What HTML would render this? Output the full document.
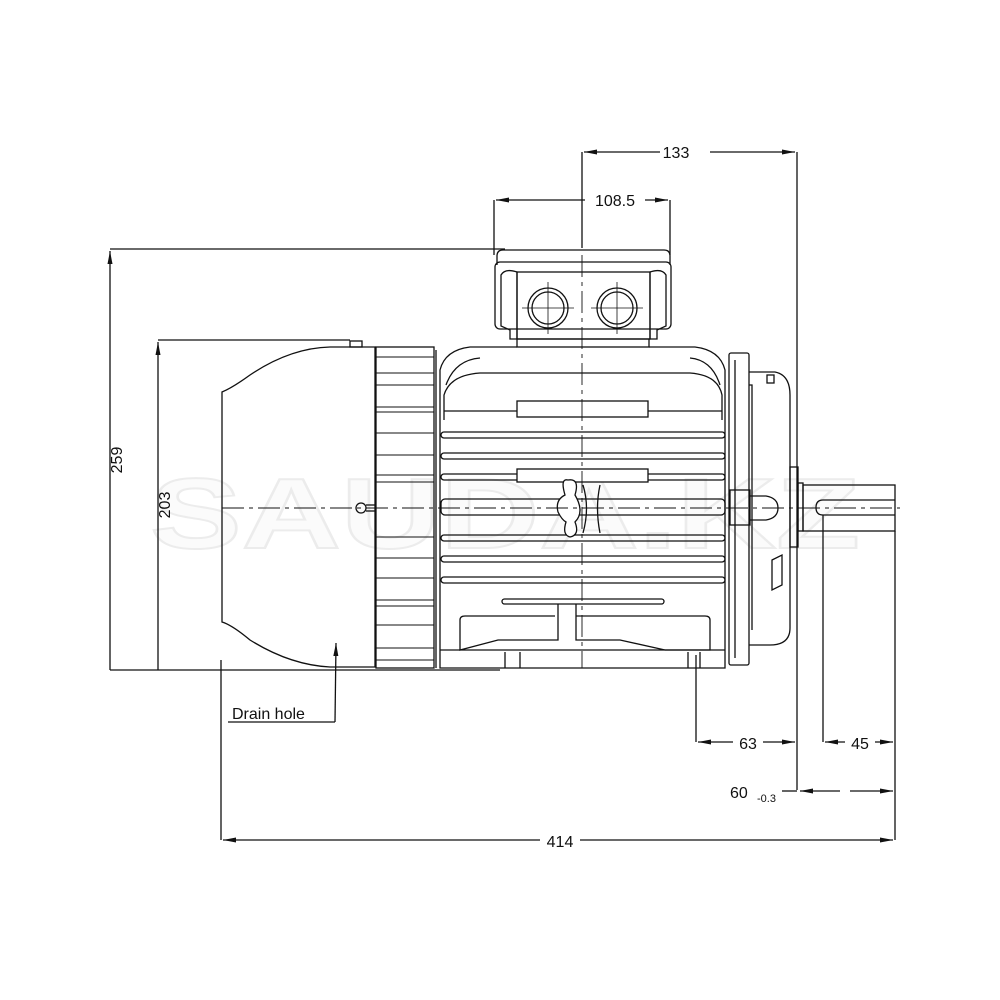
<!DOCTYPE html>
<html><head><meta charset="utf-8"><style>
html,body{margin:0;padding:0;background:#fff;}
svg{display:block;}
text{font-family:"Liberation Sans",Arial,sans-serif;fill:#111;}
</style></head><body>
<svg width="1000" height="1000" viewBox="0 0 1000 1000" xmlns="http://www.w3.org/2000/svg">
<defs>
<marker id="a" markerWidth="14" markerHeight="6" refX="13" refY="3" orient="auto-start-reverse" markerUnits="userSpaceOnUse">
<path d="M0,0.5 L13,3 L0,5.5 Z" fill="#111"/></marker>
</defs>
<text x="150" y="548" font-size="100" font-weight="bold" style="fill:#fbfbfb;stroke:#ececec;stroke-width:2" textLength="710" lengthAdjust="spacingAndGlyphs">SAUDA.KZ</text>

<g stroke="#111" stroke-width="1.3" fill="none">
<line x1="110" y1="249" x2="505" y2="249"/>
<line x1="110" y1="670" x2="500" y2="670"/>
<line x1="110" y1="670" x2="110" y2="251" marker-end="url(#a)"/>
<line x1="158" y1="340" x2="350" y2="340"/>
<line x1="158" y1="670" x2="158" y2="342" marker-end="url(#a)"/>
<line x1="582" y1="152" x2="582" y2="248"/>
<line x1="797" y1="152" x2="797" y2="790"/>
<line x1="660" y1="152" x2="584" y2="152" marker-end="url(#a)"/>
<line x1="710" y1="152" x2="795" y2="152" marker-end="url(#a)"/>
<line x1="494" y1="200" x2="494" y2="255"/>
<line x1="670" y1="200" x2="670" y2="255"/>
<line x1="585" y1="200" x2="496" y2="200" marker-end="url(#a)"/>
<line x1="645" y1="200" x2="668" y2="200" marker-end="url(#a)"/>
<line x1="696" y1="655" x2="696" y2="742"/>
<line x1="733" y1="742" x2="698" y2="742" marker-end="url(#a)"/>
<line x1="763" y1="742" x2="795" y2="742" marker-end="url(#a)"/>
<line x1="823" y1="515" x2="823" y2="742"/>
<line x1="895" y1="531" x2="895" y2="840"/>
<line x1="845" y1="742" x2="825" y2="742" marker-end="url(#a)"/>
<line x1="875" y1="742" x2="893" y2="742" marker-end="url(#a)"/>
<line x1="782" y1="791" x2="797" y2="791"/>
<line x1="840" y1="791" x2="800" y2="791" marker-end="url(#a)"/>
<line x1="850" y1="791" x2="893" y2="791" marker-end="url(#a)"/>
<line x1="221" y1="660" x2="221" y2="840"/>
<line x1="540" y1="840" x2="223" y2="840" marker-end="url(#a)"/>
<line x1="580" y1="840" x2="893" y2="840" marker-end="url(#a)"/>
<line x1="228" y1="722" x2="335" y2="722"/>
<line x1="335" y1="722" x2="336" y2="643" marker-end="url(#a)"/>

<path d="M222,392 Q232,388 250,375 Q290,348 330,347 L375,347 L375,667 L330,667 Q290,665 250,640 Q232,625 222,622 Z"/>
<rect x="350" y="341" width="12" height="6"/>
<circle cx="361" cy="508" r="5"/>
<line x1="366" y1="505" x2="375" y2="505"/><line x1="366" y1="511" x2="375" y2="511"/>
<rect x="376" y="347" width="58" height="321"/>
<g stroke-width="1">
<line x1="376" y1="357" x2="434" y2="357"/><line x1="376" y1="373" x2="434" y2="373"/>
<line x1="376" y1="385" x2="434" y2="385"/><line x1="376" y1="407" x2="434" y2="407"/>
<line x1="376" y1="412" x2="434" y2="412"/><line x1="376" y1="433" x2="434" y2="433"/>
<line x1="376" y1="455" x2="434" y2="455"/><line x1="376" y1="475" x2="434" y2="475"/>
<line x1="376" y1="482" x2="434" y2="482"/><line x1="376" y1="537" x2="434" y2="537"/>
<line x1="376" y1="558" x2="434" y2="558"/><line x1="376" y1="578" x2="434" y2="578"/>
<line x1="376" y1="600" x2="434" y2="600"/><line x1="376" y1="606" x2="434" y2="606"/>
<line x1="376" y1="625" x2="434" y2="625"/><line x1="376" y1="648" x2="434" y2="648"/>
<line x1="376" y1="660" x2="434" y2="660"/>
</g>
<line x1="436" y1="350" x2="436" y2="668"/>

<path d="M497,265 L497,256 Q497,250 503,250 L664,250 Q670,250 670,256 L670,265"/>
<rect x="495" y="262" width="176" height="67" rx="5"/>
<path d="M501,275 L501,326 L510,330 L510,339 L517,339 L517,272 Q505,268 501,275 Z"/>
<path d="M666,275 L666,326 L657,330 L657,339 L650,339 L650,272 Q662,268 666,275 Z"/>
<rect x="517" y="272" width="133" height="67"/>
<circle cx="548" cy="308" r="20"/><circle cx="548" cy="308" r="16"/>
<circle cx="617" cy="308" r="20"/><circle cx="617" cy="308" r="16"/>
<line x1="548" y1="282" x2="548" y2="334" stroke-width="0.8"/><line x1="522" y1="308" x2="574" y2="308" stroke-width="0.8"/>
<line x1="617" y1="282" x2="617" y2="334" stroke-width="0.8"/><line x1="591" y1="308" x2="643" y2="308" stroke-width="0.8"/>
<rect x="517" y="339" width="132" height="8"/>

<path d="M517,347 L470,347 Q445,350 440,370 L440,668 L725,668 L725,370 Q720,350 695,347 L649,347"/>
<path d="M444,420 L444,395 Q450,375 480,373 L690,373 Q718,375 722,395 L722,420"/>
<path d="M446,385 Q455,360 480,358 M690,358 Q712,360 720,385"/>
<rect x="517" y="401" width="131" height="16"/>
<line x1="444" y1="411" x2="517" y2="411"/><line x1="648" y1="411" x2="722" y2="411"/>
<rect x="441" y="432" width="284" height="6" rx="3"/>
<rect x="441" y="453" width="284" height="6" rx="3"/>
<rect x="441" y="474" width="284" height="6" rx="3"/>
<rect x="441" y="499" width="284" height="16" rx="4"/>
<rect x="441" y="535" width="284" height="6" rx="3"/>
<rect x="441" y="556" width="284" height="6" rx="3"/>
<rect x="441" y="577" width="284" height="6" rx="3"/>
<rect x="517" y="469" width="131" height="13" fill="#fff"/>
<path d="M568,480 Q560,478 565,495 Q555,500 558,512 Q562,520 566,522 Q562,535 570,537 Q580,535 575,522 Q585,512 575,495 Q580,478 568,480 Z" fill="#fff"/>
<path d="M583,485 Q590,508 583,533 M600,485 Q595,508 600,533"/>
<rect x="502" y="599" width="162" height="5" rx="2.5"/>
<path d="M558,604 L558,640 L498,640 L460,650 L460,620 Q460,616 465,616 L555,616 M576,604 L576,640 L620,640 L665,650 L710,650 L710,620 Q710,616 705,616 L576,616"/>
<line x1="440" y1="650" x2="725" y2="650"/>
<line x1="505" y1="652" x2="505" y2="668"/><line x1="520" y1="652" x2="520" y2="668"/>
<line x1="688" y1="652" x2="688" y2="668"/><line x1="700" y1="652" x2="700" y2="668"/>

<rect x="729" y="353" width="20" height="312" rx="2"/>
<line x1="735" y1="360" x2="735" y2="658"/>
<path d="M749,372 L775,372 Q790,375 790,395 L790,628 Q790,645 770,645 L749,645"/>
<path d="M749,385 L752,385 L752,630"/>
<rect x="767" y="375" width="7" height="8"/>
<path d="M772,560 L782,555 L782,585 L772,590 Z"/>
<rect x="730" y="490" width="20" height="35"/>
<path d="M750,496 L766,496 Q778,498 778,508 Q778,518 766,520 L750,520"/>
<rect x="790" y="467" width="8" height="80"/>
<rect x="798" y="483" width="5" height="48"/>
<rect x="803" y="485" width="92" height="46"/>
<path d="M895,500 L823,500 Q816,500 816,507.5 Q816,515 823,515 L895,515"/>

<line x1="222" y1="508" x2="900" y2="508" stroke-width="0.9" stroke-dasharray="22,5,4,5"/>
<line x1="582" y1="255" x2="582" y2="668" stroke-width="0.9" stroke-dasharray="22,5,4,5"/>
</g>

<g font-size="16">
<text x="676" y="158" text-anchor="middle">133</text>
<text x="615" y="206" text-anchor="middle">108.5</text>
<text x="748" y="749" text-anchor="middle">63</text>
<text x="860" y="749" text-anchor="middle">45</text>
<text x="730" y="798">60</text>
<text x="757" y="802" font-size="11">-0.3</text>
<text x="560" y="847" text-anchor="middle">414</text>
<text x="232" y="719">Drain hole</text>
<text transform="translate(122,460) rotate(-90)" text-anchor="middle">259</text>
<text transform="translate(170,505) rotate(-90)" text-anchor="middle">203</text>
</g>
</svg>
</body></html>
